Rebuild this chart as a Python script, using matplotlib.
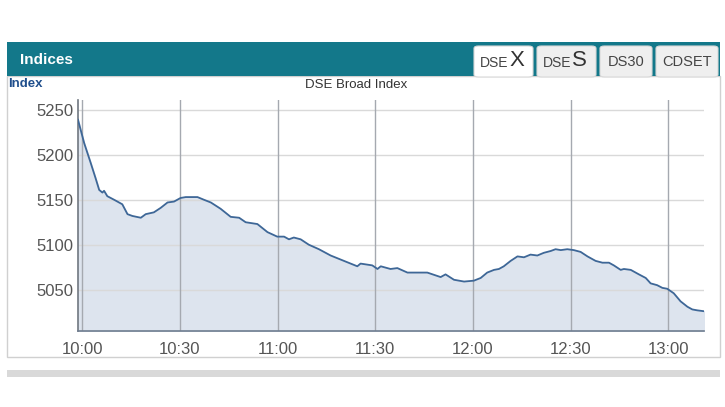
import matplotlib
matplotlib.use("Agg")
import matplotlib.pyplot as plt
from matplotlib.patches import Rectangle, FancyBboxPatch

plt.rcParams['font.family'] = ['Liberation Sans', 'DejaVu Sans']

# minutes after 10:00
minutes = [-1.3, 0.6, 2.6, 4.1, 5.2, 6.2, 6.7, 7.7, 9.8, 12.3, 13.9, 15.4, 18.0, 19.5,
           22.0, 24.1, 26.2, 28.2, 30.2, 31.8, 35.4, 37.4, 39.5, 42.5, 45.6, 48.2,
           50.2, 53.8, 56.9, 59.9, 62.0, 63.5, 65.0, 67.1, 69.6, 72.7, 76.3, 80.4,
           84.5, 85.5, 89.1, 90.7, 91.7, 94.7, 96.8, 99.9, 102.9, 106.0, 110.1,
           111.6, 114.2, 117.3, 120.3, 122.4, 124.4, 126.5, 128.0, 129.5, 131.6,
           133.7, 135.7, 137.7, 139.8, 141.8, 143.9, 145.4, 147.0, 149.0, 151.0,
           153.1, 155.2, 157.7, 159.8, 161.8, 163.3, 165.4, 166.4, 168.5, 171.0,
           173.1, 174.6, 176.6, 178.2, 179.7, 181.7, 183.8, 185.9, 187.4, 188.9, 191.0]
index_values = [5239, 5213, 5191, 5174, 5161, 5158, 5160, 5154, 5150, 5145, 5134, 5132,
                5130, 5134, 5136, 5141, 5147, 5148, 5152, 5153, 5153, 5150, 5147, 5140,
                5131, 5130, 5125, 5123, 5114, 5109, 5109, 5106, 5108, 5106, 5100, 5095,
                5088, 5082, 5076, 5079, 5077, 5073, 5076, 5073, 5074, 5069, 5069, 5069,
                5064, 5067, 5061, 5059, 5060, 5063, 5069, 5072, 5073, 5076, 5082, 5087,
                5086, 5089, 5088, 5091, 5093, 5095, 5094, 5095, 5094, 5092, 5087, 5082,
                5080, 5080, 5077, 5072, 5073, 5072, 5067, 5063, 5057, 5055, 5052, 5051,
                5046, 5037, 5031, 5028, 5027, 5026]

x_tick_minutes = [0, 30, 60, 90, 120, 150, 180]
x_tick_labels = ["10:00", "10:30", "11:00", "11:30", "12:00", "12:30", "13:00"]
y_ticks = [5050, 5100, 5150, 5200, 5250]
tabs = ["DSEX", "DSES", "DS30", "CDSET"]

W, H = 725, 407
fig = plt.figure(figsize=(W / 100, H / 100), dpi=100)

def fx(px):
    return px / W

def fy(py):
    return 1 - py / H

# panel box
fig.patches.append(Rectangle((fx(7), fy(357)), fx(720) - fx(7), fy(76) - fy(357),
                             transform=fig.transFigure, facecolor="white",
                             edgecolor="#d0d0d0", linewidth=1, zorder=0))
# header bar
fig.patches.append(Rectangle((fx(7), fy(76)), fx(720) - fx(7), fy(42) - fy(76),
                             transform=fig.transFigure, facecolor="#13788a",
                             edgecolor="none", zorder=1))
fig.text(fx(20), fy(60), "Indices", color="white", fontsize=11, fontweight="bold",
         va="center", ha="left")

# tabs
tab_bounds = [(474, 533), (537, 596), (600, 652), (656, 718)]
for i, (name, (x0, x1)) in enumerate(zip(tabs, tab_bounds)):
    face = "white" if i == 0 else "#efefef"
    fig.patches.append(FancyBboxPatch((fx(x0), fy(77)), fx(x1) - fx(x0), fy(46) - fy(77),
                                      boxstyle="round,pad=0,rounding_size=0.006",
                                      transform=fig.transFigure, facecolor=face,
                                      edgecolor="#d8d8d8", linewidth=0.8, zorder=2))
    cx = fx((x0 + x1) / 2)
    if name in ("DSEX", "DSES"):
        fig.text(cx - fx(9), fy(63), "DSE", fontsize=10, color="#444444",
                 ha="center", va="center", zorder=3)
        fig.text(cx + fx(13), fy(61), name[-1], fontsize=16, color="#333333",
                 ha="center", va="center", zorder=3)
    else:
        fig.text(cx, fy(62), name, fontsize=10.5, color="#444444",
                 ha="center", va="center", zorder=3)

fig.text(fx(8), fy(84), "Index", color="#1f4e8c", fontsize=9.5, fontweight="bold",
         ha="left", va="center")
fig.text(fx(356), fy(85), "DSE Broad Index", color="#333333", fontsize=9.5,
         ha="center", va="center")

# bottom gray strip
fig.patches.append(Rectangle((fx(7), fy(377)), fx(720) - fx(7), fy(370) - fy(377),
                             transform=fig.transFigure, facecolor="#d9d9d9",
                             edgecolor="none", zorder=1))

ax = fig.add_axes([fx(78), fy(331), fx(704) - fx(78), fy(100) - fy(331)])
ax.set_zorder(5)
ax.set_facecolor("white")
ax.fill_between(minutes, index_values, 5004, color="#dde4ee", zorder=1)
ax.plot(minutes, index_values, color="#3e6797", linewidth=1.3, zorder=3)

ax.set_xlim(-1.3, 191.0)
ax.set_ylim(5004, 5261)
ax.set_xticks(x_tick_minutes)
ax.set_xticklabels(x_tick_labels)
ax.set_yticks(y_ticks)
ax.set_yticklabels([str(v) for v in y_ticks])
ax.tick_params(axis="both", length=0, labelsize=12, colors="#555555")
ax.tick_params(axis="x", pad=8)
ax.tick_params(axis="y", pad=3)

for v in y_ticks:
    ax.axhline(v, color="#d9d9d9", linewidth=1, zorder=2)
for m in x_tick_minutes:
    ax.axvline(m, color="#a5a9b0", linewidth=1, zorder=2)

for s in ["top", "right"]:
    ax.spines[s].set_visible(False)
ax.spines["left"].set_color("#707780")
ax.spines["left"].set_linewidth(1.2)
ax.spines["bottom"].set_color("#6f7d90")
ax.spines["bottom"].set_linewidth(1.2)

fig.savefig("out.png", dpi=100)
